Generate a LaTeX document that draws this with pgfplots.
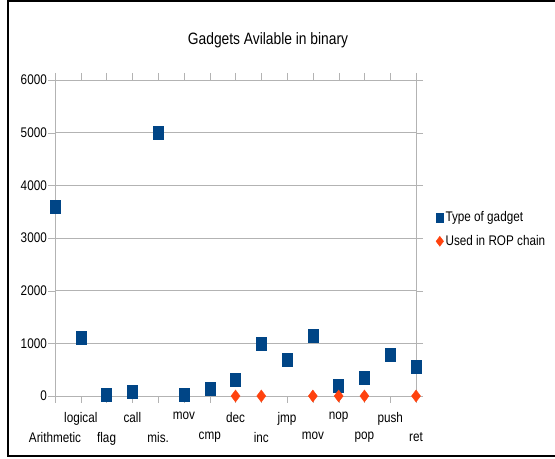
\documentclass[border=0pt]{standalone}
\usepackage{fontspec}
\setmainfont{Liberation Sans}[FakeStretch=0.84]
\usepackage{pgfplots}
\pgfplotsset{compat=1.18}
\definecolor{sblue}{HTML}{004586}
\definecolor{sred}{HTML}{FF420E}
\definecolor{gridc}{HTML}{B3B3B3}
\begin{document}
\begin{tikzpicture}[x=1bp,y=1bp]
\useasboundingbox (0,0) rectangle (555,459);
\draw[line width=2bp] (560,458.3) -- (7.5,458.3) -- (7.5,3) -- (560,3);
\node[font=\fontsize{16.5}{18}\selectfont] at (268,419) {Gadgets Avilable in binary};
\begin{axis}[
  at={(55bp,63bp)}, anchor=south west,
  width=361bp, height=316bp, scale only axis,
  xmin=0, xmax=14, ymin=0, ymax=6000, clip=false,
  axis line style={gridc}, ymajorgrids, grid style={gridc},
  tick style={gridc}, tick align=outside,
  major tick length=7bp,
  ytick={0,1000,...,6000},
  /pgf/number format/1000 sep={},
  /pgf/number format/assume math mode=true,
  yticklabel style={font=\fontsize{14}{16}\selectfont, inner sep=1bp},
  xtick={1,3,5,7,9,11,13},
  xticklabels={logical,call,mov,dec,jmp,nop,push},
  xticklabel style={font=\fontsize{14}{16}\selectfont, inner sep=1bp, yshift=-8bp},
  extra x ticks={0,2,4,6,8,10,12,14},
  extra x tick labels={Arithmetic,flag,mis.,cmp,inc,mov,pop,ret},
  extra x tick style={xticklabel style={yshift=-20bp}},
  legend style={at={(1.055,0.527)}, anchor=west, draw=none, fill=none,
    font=\fontsize{14}{16}\selectfont, row sep=8bp, inner sep=0pt,
    /tikz/every even column/.append style={column sep=6bp}},
  legend cell align=left,
  legend image code/.code={\draw[#1] plot coordinates {(0bp,0bp)};},
]
\addplot[only marks, mark=square*, mark size=5bp, color=sblue,
  mark options={yscale=1.3, draw=sblue, fill=sblue},
  legend image post style={mark size=3.6bp}]
  coordinates {
  (0,3600) (1,1110) (2,30) (3,80) (4,5000) (5,20) (6,130) (7,300)
  (8,990) (9,680) (10,1140) (11,200) (12,350) (13,790) (14,560)
};
\addlegendentry{Type of gadget}
\addplot[only marks, mark=diamond*, mark size=6bp, color=sred,
  mark options={draw=sred, fill=sred},
  legend image post style={mark size=5bp}]
  coordinates {
  (7,0) (8,0) (10,0) (11,0) (12,0) (14,0)
};
\addlegendentry{Used in ROP chain}
\end{axis}
\end{tikzpicture}
\end{document}
